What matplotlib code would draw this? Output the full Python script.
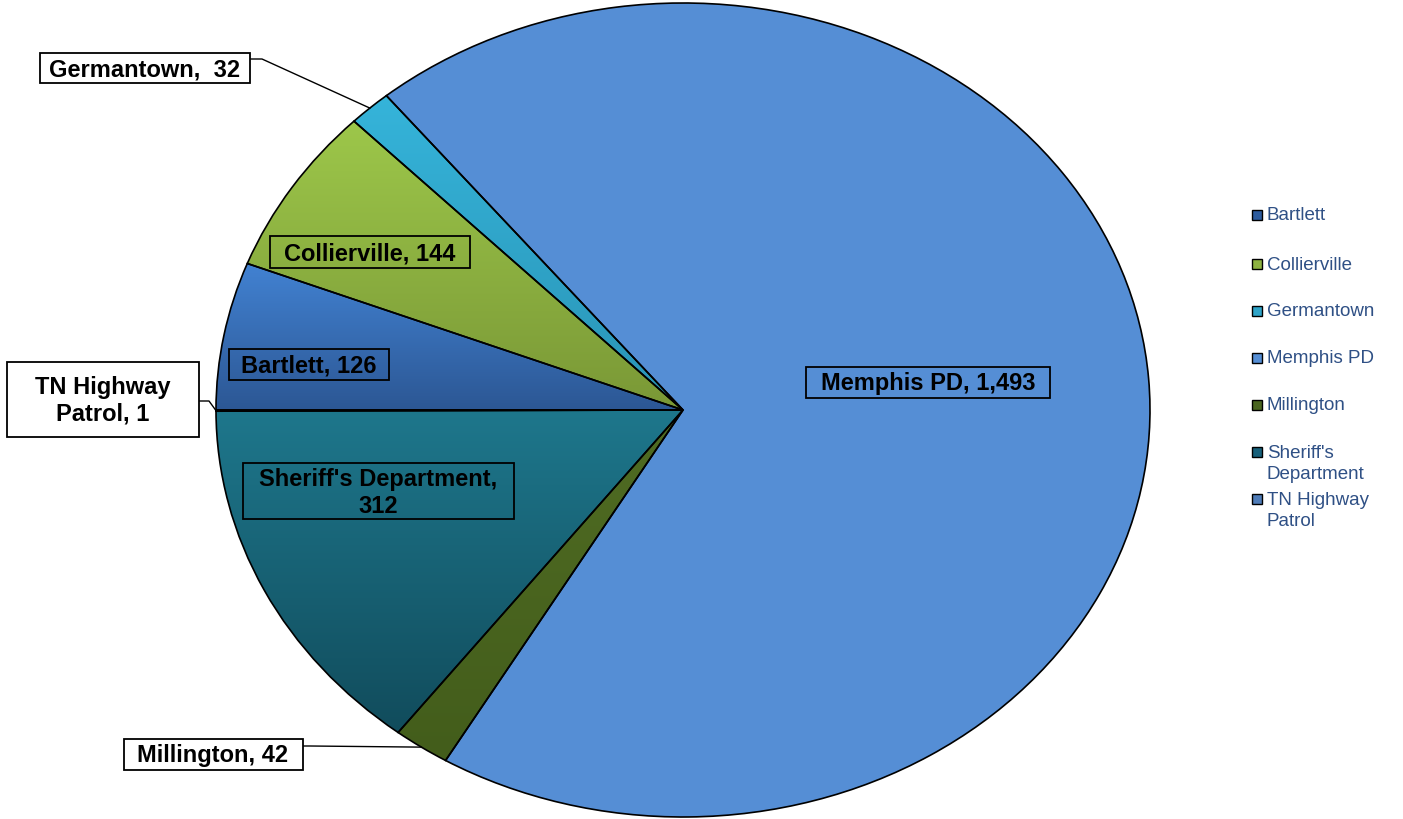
import matplotlib.pyplot as plt
import numpy as np
from matplotlib.colors import LinearSegmentedColormap
from matplotlib.patches import Rectangle
from matplotlib.lines import Line2D

plt.rcParams['font.family'] = ['Liberation Sans', 'DejaVu Sans']

agencies = ['Bartlett', 'Collierville', 'Germantown', 'Memphis PD',
            'Millington', "Sheriff's Department", 'TN Highway Patrol']
counts = [126, 144, 32, 1493, 42, 312, 1]
legend_names = ['Bartlett', 'Collierville', 'Germantown', 'Memphis PD',
                'Millington', "Sheriff's\nDepartment", 'TN Highway\nPatrol']
top_colors = ['#4282D2', '#9DC74A', '#35B4DA', '#558ED5', '#506C23', '#1E778C', '#4F81BD']
bot_colors = ['#2C5794', '#7A9836', '#2A94B6', '#558ED5', '#435D1B', '#114C5C', '#3B6396']
legend_colors = ['#2D5C9E', '#8DB241', '#2FA4C8', '#558ED5', '#4A6520', '#17607A', '#4F7CB8']

W, H = 1403, 820
fig = plt.figure(figsize=(W / 100, H / 100), dpi=100)

# pie box in pixels: left, right, top, bottom
px_l, px_r, px_t, px_b = 216, 1150, 4, 818
ax = fig.add_axes([px_l / W, 1 - px_b / H, (px_r - px_l) / W, (px_b - px_t) / H])

wedges, _ = ax.pie(counts, startangle=180, counterclock=False, radius=1,
                   wedgeprops=dict(edgecolor='black', linewidth=1.2))
ax.set_aspect('auto')
ax.axis('off')

# vertical gradient fill per slice
for w, c0, c1 in zip(wedges, top_colors, bot_colors):
    x0, y0, x1, y1 = w.get_path().get_extents().extents
    cmap = LinearSegmentedColormap.from_list('g', [c1, c0])
    grad = np.linspace(0, 1, 256).reshape(-1, 1)
    im = ax.imshow(grad, cmap=cmap, extent=[x0, x1, y0, y1], origin='lower',
                   aspect='auto', zorder=1.5, interpolation='bilinear')
    im.set_clip_path(w)
    w.set_facecolor('none')
    w.set_zorder(2)
ax.set_xlim(-1, 1)
ax.set_ylim(-1, 1)


def px(x, y):
    return x / W, 1 - y / H


def wedge_point(i):
    w = wedges[i]
    a = np.deg2rad((w.theta1 + w.theta2) / 2)
    d = ax.transData.transform((np.cos(a), np.sin(a)))
    return fig.transFigure.inverted().transform(d)


# data labels: text, center px, box w, box h, face
labels = [
    (f'{agencies[0]}, {counts[0]}', (309, 365), 160, 31, 'none'),
    (f'{agencies[1]}, {counts[1]}', (370, 253), 200, 31, 'none'),
    (f'{agencies[2]},  {counts[2]}', (145, 69), 210, 30, 'white'),
    (f'{agencies[3]}, {counts[3]:,}', (928, 383), 244, 31, 'none'),
    (f'{agencies[4]}, {counts[4]}', (213, 755), 179, 31, 'white'),
    ("Sheriff's Department,\n" + str(counts[5]), (378, 492), 271, 56, 'none'),
    (f'TN Highway\nPatrol, {counts[6]}', (103, 400), 192, 75, 'white'),
]
for txt, (cx, cy), bw, bh, fc in labels:
    fx, fy = px(cx - bw / 2, cy + bh / 2)
    fig.patches.append(Rectangle((fx, fy), bw / W, bh / H, transform=fig.transFigure,
                                 facecolor=fc, edgecolor='black', linewidth=1.3, zorder=5))
    fig.text(*px(cx, cy + 1), txt, ha='center', va='center', fontsize=17,
             fontweight='bold', color='black', linespacing=1.2, zorder=6)

# leader lines
leaders = [
    (2, [(251, 60), (262, 60)]),
    (4, [(303, 747), (310, 747)]),
    (6, [(199, 402), (209, 402)]),
]
for i, pts in leaders:
    xs = [px(*p)[0] for p in pts]
    ys = [px(*p)[1] for p in pts]
    end = wedge_point(i)
    xs.append(end[0])
    ys.append(end[1])
    fig.lines.append(Line2D(xs, ys, transform=fig.transFigure, color='black',
                            linewidth=1.0, zorder=4))

# legend
leg_y = [216, 265, 312, 359, 406, 464, 511]
for name, col, y in zip(legend_names, legend_colors, leg_y):
    first_line_y = y if '\n' not in name else y - 11
    fig.patches.append(Rectangle(px(1252, first_line_y + 5), 10 / W, 10 / H,
                                 transform=fig.transFigure, facecolor=col,
                                 edgecolor='black', linewidth=1.0))
    fig.text(*px(1267, y), name, ha='left', va='center', fontsize=13.5,
             color='#2F5085', linespacing=1.3)

fig.savefig('out.png', dpi=100)
